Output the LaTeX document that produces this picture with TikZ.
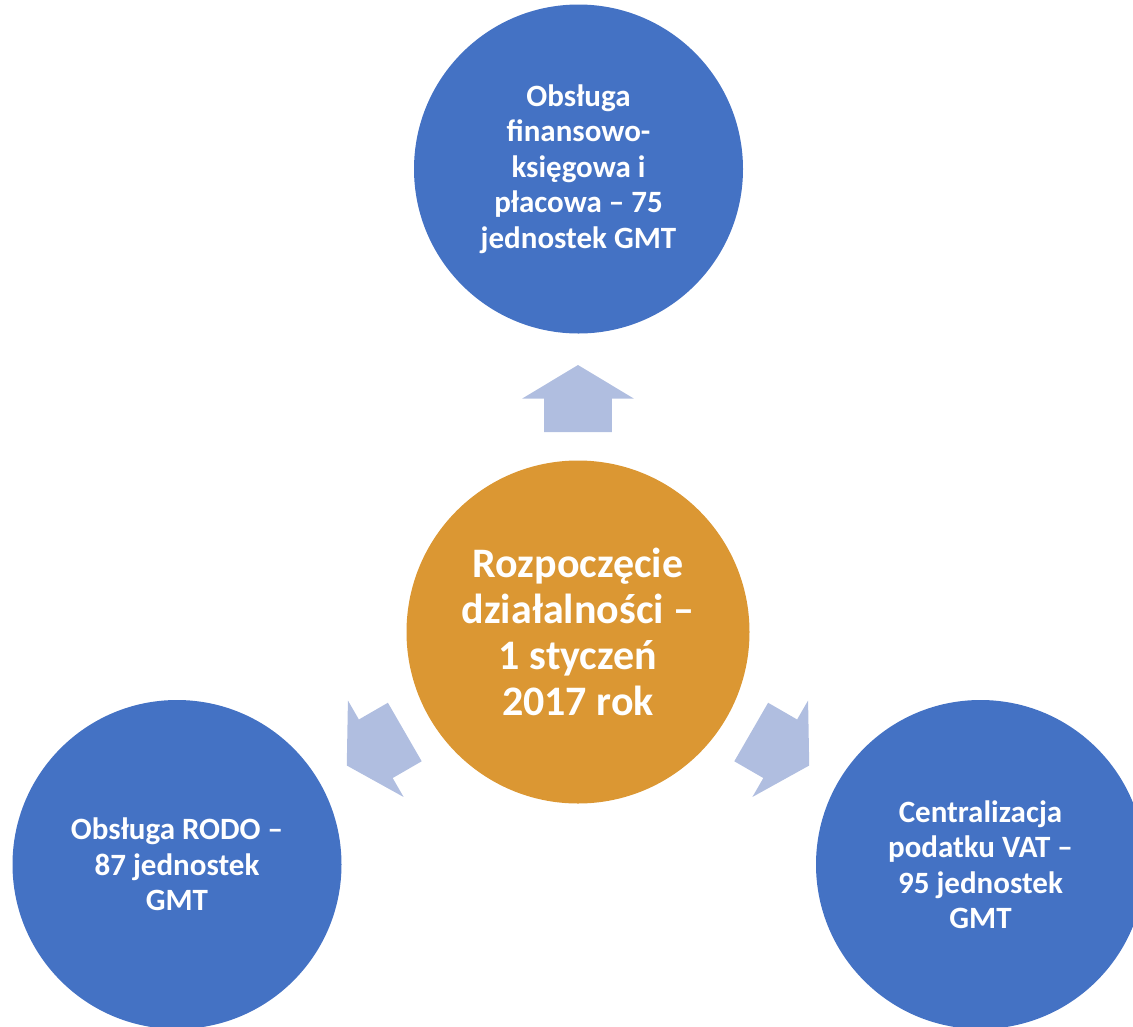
\documentclass[tikz,border=0pt]{standalone}
\usepackage{fontspec}
\setmainfont{Carlito}
\definecolor{circblue}{HTML}{4472C4}
\definecolor{circorange}{HTML}{DB9733}
\definecolor{arrowblue}{HTML}{B0BEE0}
\tikzset{
  outercirc/.style={circle, fill=circblue, inner sep=0pt, minimum size=329pt,
    text=white, align=center, font=\fontsize{31}{35.5}\selectfont\bfseries},
  centercirc/.style={circle, fill=circorange, inner sep=0pt, minimum size=343pt,
    text=white, align=center, font=\fontsize{42}{46}\selectfont\bfseries},
  blockarrow/.style={fill=arrowblue}
}
\newcommand{\blockarrowpath}{(200,33.8) -- (233.5,33.8) -- (233.5,55.7) -- (267,0) -- (233.5,-55.7) -- (233.5,-33.8) -- (200,-33.8) -- cycle}
\begin{document}
\begin{tikzpicture}[x=1pt,y=1pt]
\useasboundingbox (0,0) rectangle (1133,-1026);
\clip (0,0) rectangle (1133,-1026);
\node[centercirc] (c) at (578,-632) {Rozpoczęcie\\działalności –\\1 styczeń\\2017 rok};
\node[outercirc] (top) at (578.5,-169) {Obsługa\\finansowo-\\księgowa i\\płacowa – 75\\jednostek GMT};
\node[outercirc] (left) at (177,-864.5) {Obsługa RODO –\\87 jednostek\\GMT};
\node[outercirc] (right) at (980.5,-864.5) {Centralizacja\\podatku VAT –\\95 jednostek\\GMT};
\begin{scope}[shift={(c.center)}]
  \fill[blockarrow, rotate=90] \blockarrowpath;
  \fill[blockarrow, rotate=210] \blockarrowpath;
  \fill[blockarrow, rotate=330] \blockarrowpath;
\end{scope}
\end{tikzpicture}
\end{document}
